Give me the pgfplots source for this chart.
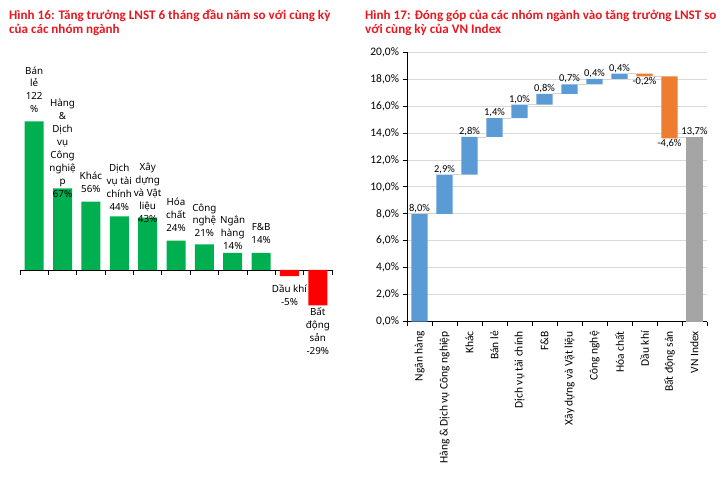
\documentclass[border=0pt]{standalone}
\usepackage{pgfplots}
\pgfplotsset{compat=1.18}
\usepackage{pgfplotstable}
\usepackage{fontspec}
\setmainfont{Carlito}
\newfontfamily\lblfont{Noto Sans}
\definecolor{titlered}{RGB}{232,24,32}
\definecolor{xgreen}{RGB}{0,176,80}
\definecolor{xred}{RGB}{255,0,0}
\definecolor{wblue}{RGB}{91,155,213}
\definecolor{worange}{RGB}{237,125,49}
\definecolor{wgray}{RGB}{165,165,165}
\definecolor{gridc}{RGB}{217,217,217}
\definecolor{connc}{RGB}{210,210,210}
\newcommand{\nl}{\\}

\pgfplotstableread[col sep=semicolon]{
x;y;lab;sh
0;122;Bán\nl lẻ\nl 122\nl \%;7.8
1;67;Hàng\nl \&\nl Dịch\nl vụ\nl Công\nl nghiệ\nl p\nl 67\%;-9.6
2;56;Khác\nl 56\%;8.1
3;44;Dịch\nl vụ tài\nl chính\nl 44\%;5.1
4;43;Xây\nl dựng\nl và Vật\nl liệu\nl 43\%;-5.6
5;24;Hóa\nl chất\nl 24\%;8.7
6;21;Công\nl nghệ\nl 21\%;6.7
7;14;Ngân\nl hàng\nl 14\%;2.4
8;14;F\&B\nl 14\%;9.1
}\leftpos
\pgfplotstableread[col sep=semicolon]{
x;y;lab;sh
9;-5;Dầu khí\nl -5\%;-7.4
10;-29;Bất\nl động\nl sản\nl -29\%;-1.4
}\leftneg

\pgfplotstableread{
x base pos neg tot
0 0 8.0 0 0
1 8.0 2.9 0 0
2 10.9 2.8 0 0
3 13.7 1.4 0 0
4 15.1 1.0 0 0
5 16.1 0.8 0 0
6 16.9 0.7 0 0
7 17.6 0.4 0 0
8 18.0 0.4 0 0
9 18.2 0 0.2 0
10 13.6 0 4.6 0
11 0 0 0 13.7
}\wf
\pgfplotstableread[col sep=semicolon]{
x;y;lab
0;8.0;8,0\%
1;10.9;2,9\%
2;13.7;2,8\%
3;15.1;1,4\%
4;16.1;1,0\%
5;16.9;0,8\%
6;17.6;0,7\%
7;18.0;0,4\%
8;18.4;0,4\%
11;13.7;13,7\%
}\wflabpos
\pgfplotstableread[col sep=semicolon]{
x;y;lab
9;18.2;-0,2\%
10;13.6;-4,6\%
}\wflabneg
\pgfplotstableread{
x y
0.33 8.0
0.67 8.0
nan nan
1.33 10.9
1.67 10.9
nan nan
2.33 13.7
2.67 13.7
nan nan
3.33 15.1
3.67 15.1
nan nan
4.33 16.1
4.67 16.1
nan nan
5.33 16.9
5.67 16.9
nan nan
6.33 17.6
6.67 17.6
nan nan
7.33 18.0
7.67 18.0
nan nan
8.33 18.4
8.67 18.4
nan nan
9.33 18.2
9.67 18.2
nan nan
10.33 13.7
10.67 13.7
}\wfconn

\begin{document}
\begin{tikzpicture}[x=1pt,y=1pt]
\fill[white] (0,0) rectangle (724,485);
\path[use as bounding box] (0,0) rectangle (724,485);
\tikzset{ttl/.style={anchor=base west, inner sep=0pt, text=titlered, font=\bfseries\fontsize{13.1}{15}\selectfont}}
\node[ttl] at (9,465) {Hình 16: Tăng trưởng LNST 6 tháng đầu năm so với cùng kỳ};
\node[ttl] at (9,451) {của các nhóm ngành};
\node[ttl] at (365,465) {Hình 17: Đóng góp của các nhóm ngành vào tăng trưởng LNST so};
\node[ttl] at (365,451) {với cùng kỳ của VN Index};

% Left chart
\begin{axis}[
 at={(20pt,166.3pt)}, anchor=south west, scale only axis,
 width=312pt, height=207.1pt,
 xmin=-0.5, xmax=10.5, ymin=-40, ymax=130,
 axis x line=middle, axis y line=none,
 axis line style={-, black, line width=0.75pt},
 xtick={-0.5,0.5,...,10.5}, xticklabels={}, ytick=\empty,
 tick align=outside, major tick length=5pt,
 tick style={black, line width=0.75pt},
 clip=false,
 nodes near coords, point meta=explicit symbolic,
 visualization depends on={\thisrow{sh}\as\labsh},
 nodes near coords style={font=\lblfont\fontsize{9.8}{12.9}\selectfont, align=center, inner sep=0.5pt, text=black, yshift=\labsh pt},
]
\addplot[ybar, bar width=19pt, bar shift=0pt, fill=xgreen, draw=none,
 every node near coord/.append style={anchor=south}] table[x=x,y=y,meta=lab]{\leftpos};
\addplot[ybar, bar width=19pt, bar shift=0pt, fill=xred, draw=none,
 every node near coord/.append style={anchor=north}] table[x=x,y=y,meta=lab]{\leftneg};
\end{axis}

% Right chart: bars
\begin{axis}[
 at={(407pt,163.3pt)}, anchor=south west, scale only axis,
 width=300pt, height=269.7pt,
 xmin=-0.5, xmax=11.5, ymin=0, ymax=20,
 axis lines=left, axis line style={-, black, line width=0.75pt},
 ybar stacked, bar width=16.4pt,
 xtick={-0.5,0.5,...,11.5}, xticklabels={},
 ytick={0,2,...,20},
 yticklabel={\pgfmathprintnumber[assume math mode=true,fixed,fixed zerofill,precision=1,use comma]{\tick}\%},
 yticklabel style={font=\fontsize{11.5}{13}\selectfont, text=black},
 tick align=outside, major tick length=4.5pt,
 tick style={black, line width=0.75pt},
 ymajorgrids, grid style={gridc, line width=0.75pt},
]
\addplot[draw=none, fill=none] table[x=x,y=base]{\wf};
\addplot[draw=none, fill=wblue] table[x=x,y=pos]{\wf};
\addplot[draw=none, fill=worange] table[x=x,y=neg]{\wf};
\addplot[draw=none, fill=wgray] table[x=x,y=tot]{\wf};
\end{axis}

% Right chart: category labels, connectors, value labels
\begin{axis}[
 at={(407pt,163.3pt)}, anchor=south west, scale only axis,
 width=300pt, height=269.7pt,
 xmin=-0.5, xmax=11.5, ymin=0, ymax=20,
 axis x line*=bottom, axis y line=none, axis line style={draw=none},
 xtick={0,...,11}, major tick length=0pt, ytick=\empty,
 xticklabels={Ngân hàng, Hàng \& Dịch vụ Công nghiệp, Khác, Bán lẻ, Dịch vụ tài chính, F\&B, Xây dựng và Vật liệu, Công nghệ, Hóa chất, Dầu khí, Bất động sản, VN Index},
 xticklabel style={yshift=-6pt, rotate=90, anchor=east, font=\fontsize{11.5}{13}\selectfont, text=black},
 clip=false, unbounded coords=jump,
]
\addplot[connc, line width=0.75pt] table[x=x,y=y]{\wfconn};
\addplot[draw=none, nodes near coords, point meta=explicit symbolic,
 nodes near coords style={anchor=south, font=\fontsize{10.5}{12}\selectfont, inner sep=1pt, text=black}] table[x=x,y=y,meta=lab]{\wflabpos};
\addplot[draw=none, nodes near coords, point meta=explicit symbolic,
 nodes near coords style={anchor=north, font=\fontsize{10.5}{12}\selectfont, inner sep=1pt, text=black}] table[x=x,y=y,meta=lab]{\wflabneg};
\end{axis}
\end{tikzpicture}
\end{document}
